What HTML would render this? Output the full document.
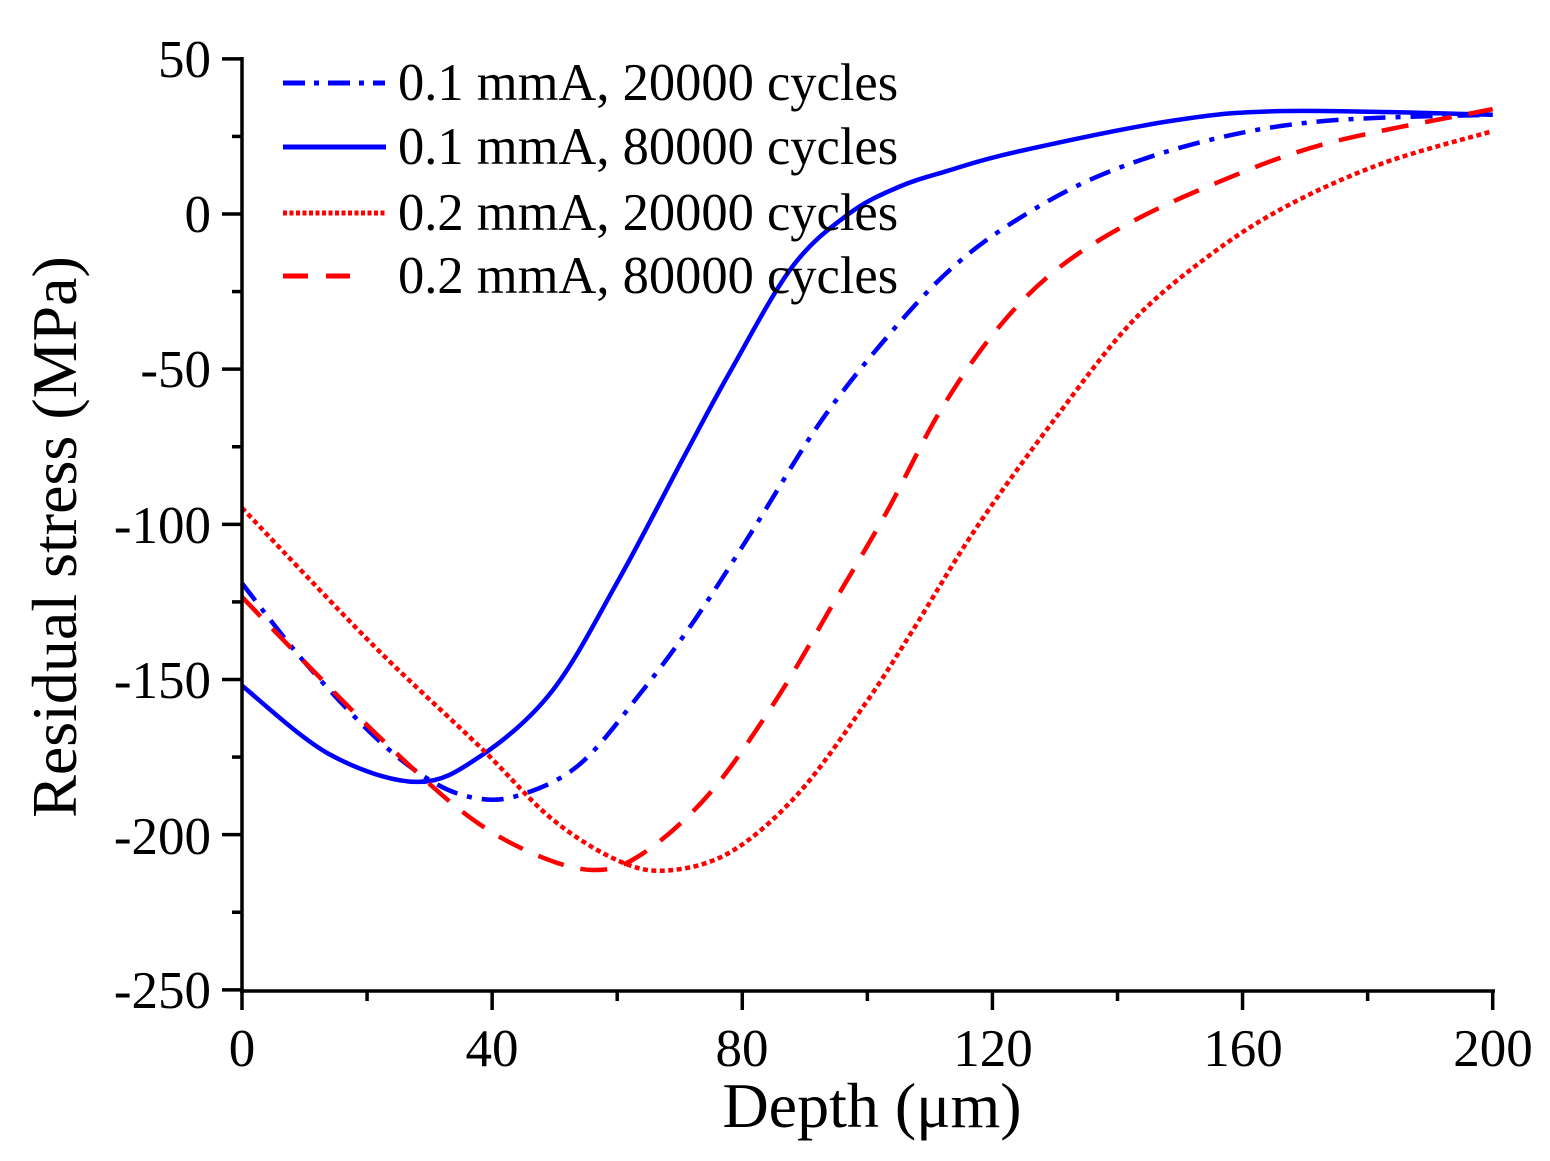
<!DOCTYPE html>
<html><head><meta charset="utf-8"><style>
html,body{margin:0;padding:0;background:#fff;}
svg{display:block;font-family:"Liberation Serif",serif;}
</style></head><body>
<svg id="s" width="1550" height="1161" viewBox="0 0 1550 1161" xmlns="http://www.w3.org/2000/svg">
<rect width="1550" height="1161" fill="#fff"/>
<g id="curves" fill="none" stroke-width="4.5"></g>
<g stroke="#000" stroke-width="3.5" fill="none" id="axes">
<line x1="242" y1="57" x2="242" y2="992"/>
<line x1="240" y1="991" x2="1495" y2="991"/>
</g>
<g font-size="53" fill="#000" text-anchor="end">
<text x="211" y="77">50</text>
<text x="211" y="232">0</text>
<text x="211" y="387">-50</text>
<text x="211" y="543">-100</text>
<text x="211" y="698">-150</text>
<text x="211" y="854">-200</text>
<text x="211" y="1008">-250</text>
</g>
<g font-size="53" fill="#000" text-anchor="middle">
<text x="242" y="1066">0</text>
<text x="492" y="1066">40</text>
<text x="742" y="1066">80</text>
<text x="993" y="1066">120</text>
<text x="1243" y="1066">160</text>
<text x="1493" y="1066">200</text>
</g>
<text x="872" y="1127" font-size="64" text-anchor="middle">Depth (μm)</text>
<text transform="translate(76,537) rotate(-90)" font-size="64" text-anchor="middle">Residual stress (MPa)</text>
<g font-size="52.5" fill="#000">
<text x="398" y="100">0.1 mmA, 20000 cycles</text>
<text x="398" y="164">0.1 mmA, 80000 cycles</text>
<text x="398" y="230">0.2 mmA, 20000 cycles</text>
<text x="398" y="293">0.2 mmA, 80000 cycles</text>
</g>
<g fill="none" stroke-width="5">
<line x1="283" y1="83" x2="385" y2="83" stroke="#0000ff" stroke-dasharray="22,9,5,9"/>
<line x1="283" y1="147" x2="386" y2="147" stroke="#0000ff"/>
<line x1="283" y1="213" x2="385" y2="213" stroke="#ff0000" stroke-dasharray="4,2.5"/>
<line x1="283" y1="276" x2="350" y2="276" stroke="#ff0000" stroke-dasharray="25,18"/>
</g>
</svg>
<script>
(function(){
var NS="http://www.w3.org/2000/svg";
function X(x){return 242+6.2535*x;}
function Y(y){return 214-3.1033*y;}
var ax=document.getElementById('axes');
function L(x1,y1,x2,y2){var l=document.createElementNS(NS,'line');l.setAttribute('x1',x1);l.setAttribute('y1',y1);l.setAttribute('x2',x2);l.setAttribute('y2',y2);ax.appendChild(l);}
for(var v=50;v>=-250;v-=25){var y=Y(v);L(242,y,(v%50===0)?222:232,y);}
for(var v=0;v<=200;v+=20){var x=X(v);L(x,991,x,(v%40===0)?1010:1001);}
var g=document.getElementById('curves');
function path(pts,color,dash){
 var P=pts.map(function(p){return [X(p[0]),Y(p[1])];});
 var d="M"+P[0][0]+","+P[0][1];
 for(var i=0;i<P.length-1;i++){
  var p0=P[i-1]||P[i],p1=P[i],p2=P[i+1],p3=P[i+2]||P[i+1];
  var c1=[p1[0]+(p2[0]-p0[0])/6,p1[1]+(p2[1]-p0[1])/6];
  var c2=[p2[0]-(p3[0]-p1[0])/6,p2[1]-(p3[1]-p1[1])/6];
  d+=" C"+c1[0]+","+c1[1]+" "+c2[0]+","+c2[1]+" "+p2[0]+","+p2[1];
 }
 var e=document.createElementNS(NS,'path');e.setAttribute('d',d);e.setAttribute('stroke',color);
 if(dash)e.setAttribute('stroke-dasharray',dash);g.appendChild(e);
}
path([[0,-119],[9.7,-143.7],[21,-168],[29.7,-182],[36.8,-188],[44,-187.5],[53.9,-177.5],[64,-153.7],[72.4,-130.8],[81.7,-101.8],[92.4,-67.3],[103,-40],[113.2,-18],[123.8,-2],[137.4,12.6],[154.6,23.8],[173.2,30],[200,32]],"#0000ff","22,10,5,10");
path([[0,-152],[13.9,-174],[28,-183],[38.2,-174.6],[49.6,-153.7],[60.3,-117.6],[71,-77],[78.2,-50.3],[88,-17],[97,0],[105,8.7],[113,14],[123.8,20],[148.6,30],[167,33.2],[200,32]],"#0000ff");
path([[0,-94.7],[21,-139],[38.2,-172],[49.6,-195],[60.3,-208.5],[68.3,-211.5],[78.2,-205.5],[88.9,-186.9],[99.6,-158],[107,-135],[117.5,-100.9],[130,-66],[142.3,-34.8],[154.6,-13.5],[167.1,2.6],[182.5,16.4],[200,26.7]],"#ff0000","5,3.5");
path([[0,-123.4],[8.3,-140.8],[21.7,-168],[35.3,-192.7],[46,-205.6],[56.1,-211.4],[64,-206.2],[74.7,-186.9],[85.4,-156.6],[94.7,-125],[103.1,-96],[111.5,-64],[120,-39],[129,-20],[140,-5],[154.6,9],[173.2,22.6],[200,33.8]],"#ff0000","27,17");
})();
</script>
</body></html>
